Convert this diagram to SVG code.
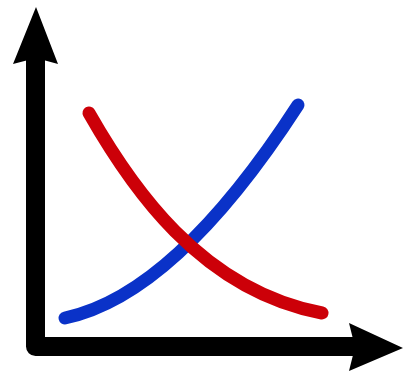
<svg xmlns="http://www.w3.org/2000/svg" width="405" height="371" viewBox="0 0 405 371">
<style>
.axis{fill:none;stroke:#000;stroke-width:19;stroke-linejoin:round}
.head{fill:#000}
.curve{fill:none;stroke-width:13;stroke-linecap:round}
</style>
<rect width="405" height="371" fill="#fff"/>
<g id="axes">
<path class="axis" d="M35.5,55 V346.5 H355"/>
<polygon class="head" points="36,7 58,64 36,58 13,64"/>
<polygon class="head" points="403,348 349,323 355,347 349,371"/>
</g>
<g id="blue-curve">
<path class="curve" stroke="#0a32c8" d="M65,318 C150,300 230,210 298,105"/>
</g>
<g id="red-curve">
<path class="curve" stroke="#cc0008" d="M89,113 C130,185 200,290 322,313"/>
</g>
</svg>
